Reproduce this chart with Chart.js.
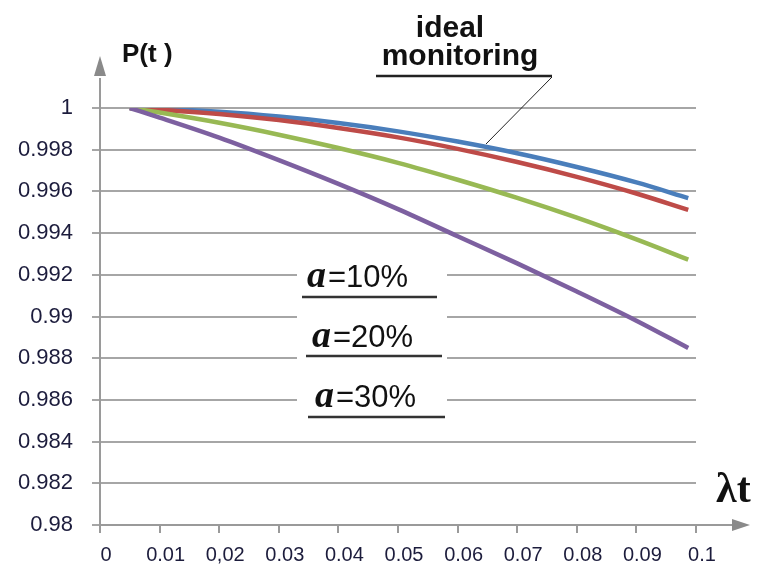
<!DOCTYPE html>
<html>
<head>
<meta charset="utf-8">
<title>P(t)</title>
<script src="https://cdn.jsdelivr.net/npm/chart.js@4"></script>
<style>
    body { margin: 0; background: #fff; }
    #wrap { width: 764px; height: 566px; }
</style>
</head>
<body>
<div id="wrap"><canvas id="reliabilityChart" width="764" height="566"></canvas></div>
<script>
// values
const tValues = [0.005, 0.01, 0.02, 0.03, 0.04, 0.05, 0.06, 0.07, 0.08, 0.09, 0.0987];
const idealMonitoring = [1, 0.99996, 0.99982, 0.99959, 0.99928, 0.99888, 0.99839, 0.99783, 0.99717, 0.99643, 0.99568];
const a10 = [1, 0.99992, 0.99971, 0.99942, 0.99904, 0.99859, 0.99804, 0.99741, 0.99670, 0.99590, 0.99511];
const a20 = [1, 0.99978, 0.99929, 0.99872, 0.99808, 0.99737, 0.99656, 0.99569, 0.99474, 0.99370, 0.99273];
const a30 = [1, 0.99954, 0.99858, 0.99750, 0.99636, 0.99515, 0.99385, 0.99255, 0.99120, 0.98980, 0.98849];

const xTickLabels = ["0", "0.01", "0,02", "0.03", "0.04", "0.05", "0.06", "0.07", "0.08", "0.09", "0.1"];
const yTickLabels = ["0.98", "0.982", "0.984", "0.986", "0.988", "0.99", "0.992", "0.994", "0.996", "0.998", "1"];
const aLabels = ["=10%", "=20%", "=30%"];

document.addEventListener("DOMContentLoaded", function () {
    const ctx = document.getElementById("reliabilityChart").getContext("2d");
    const axisGray = "#9a9a9a";
    const sans = "'Liberation Sans', Arial, sans-serif";
    const serif = "'Liberation Serif', 'Times New Roman', serif";

    function toPoints(values) {
        return values.map(function (v, i) { return { x: tValues[i], y: v }; });
    }

    function line(x1, y1, x2, y2, color, width) {
        ctx.save();
        ctx.strokeStyle = color;
        ctx.lineWidth = width;
        ctx.beginPath();
        ctx.moveTo(x1, y1);
        ctx.lineTo(x2, y2);
        ctx.stroke();
        ctx.restore();
    }

    const decorations = {
        id: "decorations",
        beforeDatasetsDraw: function (chart) {
            // white patch behind the "a=" labels
            ctx.save();
            ctx.fillStyle = "#fff";
            ctx.fillRect(297, 252, 150, 171);
            ctx.restore();
        },
        afterDraw: function (chart) {
            const area = chart.chartArea;

            // axis extensions + arrows
            line(area.left, area.top, area.left, 78, axisGray, 2);
            line(area.right, area.bottom, 738, area.bottom, axisGray, 2);
            ctx.save();
            ctx.fillStyle = "#8a8a8a";
            ctx.beginPath();
            ctx.moveTo(area.left - 6, 76);
            ctx.lineTo(area.left, 56);
            ctx.lineTo(area.left + 6, 76);
            ctx.closePath();
            ctx.fill();
            ctx.beginPath();
            ctx.moveTo(732, area.bottom - 6);
            ctx.lineTo(750, area.bottom);
            ctx.lineTo(732, area.bottom + 6);
            ctx.closePath();
            ctx.fill();
            ctx.restore();

            ctx.save();
            ctx.fillStyle = "#111";
            ctx.textBaseline = "alphabetic";

            ctx.font = "bold 26px " + sans;
            ctx.fillText("P(t )", 122, 62);

            ctx.font = "bold 30px " + sans;
            ctx.textAlign = "center";
            ctx.fillText("ideal", 450, 37);
            ctx.fillText("monitoring", 460, 65);
            ctx.textAlign = "left";
            line(376, 76, 552, 76, "#222", 2.5);
            line(552, 77, 486, 144, "#222", 1);

            ctx.font = "bold 42px " + serif;
            ctx.fillText("\u03bbt", 716, 502);

            const rows = [
                { x: 307, base: 287, u: 297, ux1: 302, ux2: 437 },
                { x: 312, base: 347, u: 356, ux1: 306, ux2: 442 },
                { x: 315, base: 407, u: 417, ux1: 308, ux2: 445 }
            ];
            rows.forEach(function (r, i) {
                ctx.font = "bold italic 38px " + serif;
                ctx.fillText("a", r.x, r.base);
                const w = ctx.measureText("a").width;
                ctx.font = "31px " + sans;
                ctx.fillText(aLabels[i], r.x + w + 2, r.base);
                line(r.ux1, r.u, r.ux2, r.u, "#333", 2.5);
            });
            ctx.restore();
        }
    };

    const common = { pointRadius: 0, borderWidth: 4.5, fill: false, cubicInterpolationMode: "monotone" };

    new Chart(ctx, {
        type: "line",
        data: {
            datasets: [
                Object.assign({ label: "a=30%", data: toPoints(a30), borderColor: "#7d60a0" }, common),
                Object.assign({ label: "a=20%", data: toPoints(a20), borderColor: "#98b954" }, common),
                Object.assign({ label: "a=10%", data: toPoints(a10), borderColor: "#be4b48" }, common),
                Object.assign({ label: "ideal monitoring", data: toPoints(idealMonitoring), borderColor: "#4a7ebb" }, common)
            ]
        },
        options: {
            responsive: false,
            animation: false,
            layout: { padding: { top: 108, right: 68, left: 0, bottom: 0 } },
            plugins: { legend: { display: false }, tooltip: { enabled: false } },
            scales: {
                x: {
                    type: "linear",
                    min: 0,
                    max: 0.1,
                    afterFit: function (s) { s.height = 41; },
                    border: { color: axisGray, width: 2 },
                    grid: { drawOnChartArea: false, drawTicks: true, tickLength: 8, color: axisGray, lineWidth: 2 },
                    ticks: {
                        stepSize: 0.01,
                        autoSkip: false,
                        maxRotation: 0,
                        padding: 10,
                        labelOffset: 6,
                        color: "#1c1c3c",
                        font: { family: sans, size: 20 },
                        callback: function (v, i) { return xTickLabels[i]; }
                    }
                },
                y: {
                    min: 0.98,
                    max: 1,
                    afterFit: function (s) { s.width = 100; },
                    border: { color: axisGray, width: 2 },
                    grid: { color: "#a6a6a6", lineWidth: 2, tickLength: 8 },
                    ticks: {
                        stepSize: 0.002,
                        padding: 19,
                        color: "#1c1c3c",
                        font: { family: sans, size: 22 },
                        callback: function (v, i) { return yTickLabels[i]; }
                    }
                }
            }
        },
        plugins: [decorations]
    });
});
</script>
</body>
</html>
